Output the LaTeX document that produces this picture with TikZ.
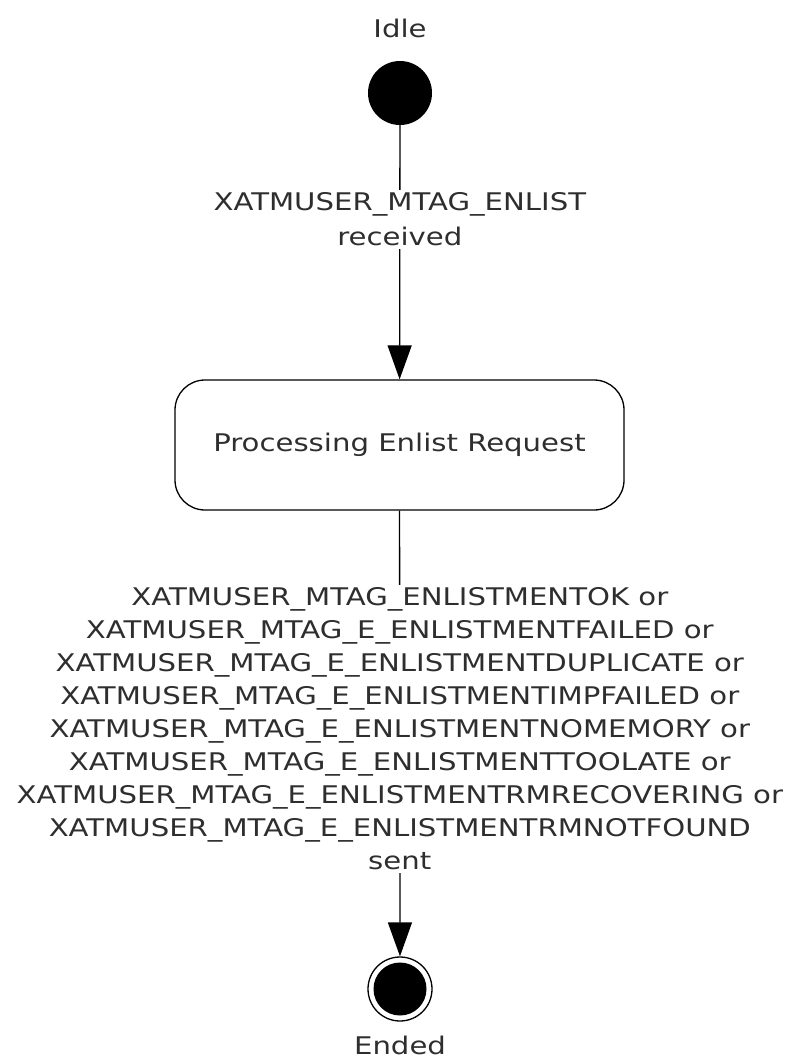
\documentclass[tikz,border=0pt]{standalone}
\usepackage{fontspec}
\setmainfont{DejaVu Sans}[FakeStretch=1.2]
\usetikzlibrary{arrows.meta}
\begin{document}
\begin{tikzpicture}[x=1pt,y=-1pt,
  lbl/.style={font=\fontsize{24.3}{33}\selectfont, text=black!82, align=center, inner sep=3pt},
  tlabel/.style={lbl, fill=white},
  conn/.style={line width=1.3pt, -{Triangle[length=34pt,width=24pt]}},
  statebox/.style={draw, line width=1.3pt, rounded corners=30pt, minimum width=449pt, minimum height=130pt, lbl}
]
\useasboundingbox (0,0) rectangle (789,1059);
\node[lbl] (idlelbl) at (400,28) {Idle};
\node[circle, fill=black, minimum size=64pt, inner sep=0pt] (init) at (400,93) {};
\node[statebox] (proc) at (399.5,445) {Processing Enlist Request};
\node[circle, draw, line width=1.3pt, minimum size=64pt, inner sep=0pt] (fin) at (400,989) {};
\node[circle, fill=black, minimum size=53pt, inner sep=0pt] (fininner) at (fin.center) {};
\node[lbl] (endlbl) at (400,1045) {Ended};
\draw[conn] (init) -- node[tlabel, pos=0.37, font=\fontsize{24.3}{35}\selectfont] (t1) {XATMUSER\_MTAG\_ENLIST\\received} (proc);
\draw[conn] (proc) -- node[tlabel, pos=0.49] (t2) {XATMUSER\_MTAG\_ENLISTMENTOK or\\
XATMUSER\_MTAG\_E\_ENLISTMENTFAILED or\\
XATMUSER\_MTAG\_E\_ENLISTMENTDUPLICATE or\\
XATMUSER\_MTAG\_E\_ENLISTMENTIMPFAILED or\\
XATMUSER\_MTAG\_E\_ENLISTMENTNOMEMORY or\\
XATMUSER\_MTAG\_E\_ENLISTMENTTOOLATE or\\
XATMUSER\_MTAG\_E\_ENLISTMENTRMRECOVERING or\\
XATMUSER\_MTAG\_E\_ENLISTMENTRMNOTFOUND\\
sent} (fin);
\end{tikzpicture}
\end{document}
